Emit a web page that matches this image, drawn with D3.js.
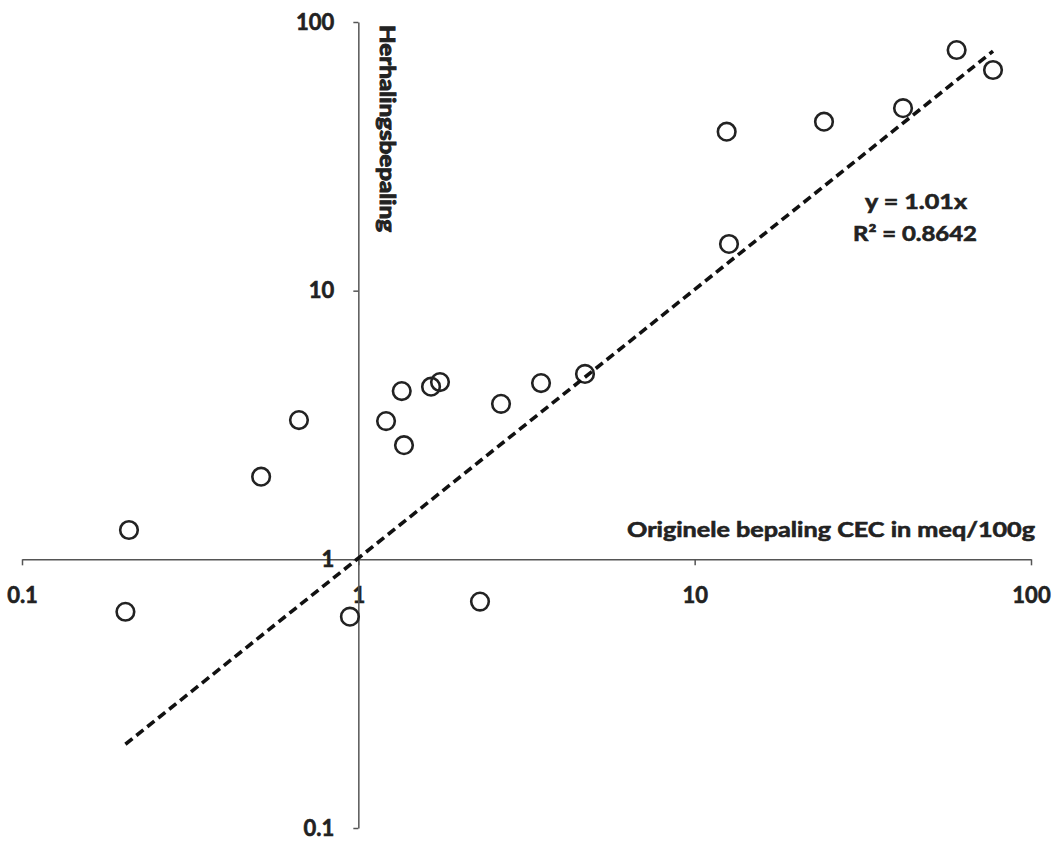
<!DOCTYPE html>
<html lang="nl">
<head>
    <meta charset="UTF-8">
    <title>CEC herhalingsbepaling</title>
    <script src="https://d3js.org/d3.v7.min.js"></script>
    <style>
        body { margin: 0; background-color: #fff; overflow: hidden; }
        text { font-family: Lato, "Open Sans", sans-serif; font-weight: 700; fill: #222; stroke: #222; stroke-width: 0.6px; }
        .axis path, .axis line { stroke: #555; stroke-width: 1.5px; }
        .axis text { font-size: 22px; }
        .dot { fill: none; stroke: #222; stroke-width: 2.6px; }
        .trend { fill: none; stroke: #111; stroke-width: 3.6px; stroke-dasharray: 9 5; }
    </style>
</head>
<body>
    <div id="chart"></div>
    <script>
        const width = 1062, height = 841;

        // Original CEC determination vs. repeat determination (meq/100g)
        const origineel = [0.208, 0.203, 0.514, 0.666, 0.944, 1.209, 1.346, 1.367, 1.645, 1.749,
                           2.30, 2.656, 3.493, 4.72, 12.45, 12.65, 24.24, 41.64, 60.1, 77.1];
        const herhaling = [1.286, 0.638, 2.03, 3.30, 0.612, 3.27, 4.23, 2.66, 4.39, 4.57,
                           0.696, 3.79, 4.53, 4.90, 39.05, 14.92, 42.55, 47.8, 78.65, 66.28];
        const xTicks = [0.1, 1, 10, 100];
        const yTicks = [0.1, 1, 10, 100];
        const slope = 1.01;
        const rSquared = 0.8642;

        const svg = d3.select("#chart").append("svg")
            .attr("width", width)
            .attr("height", height);

        const x = d3.scaleLog().domain([0.1, 100]).range([22, 1031]);
        const y = d3.scaleLog().domain([0.1, 100]).range([828, 22]);

        // Axes cross at (1, 1)
        svg.append("g")
            .attr("class", "axis")
            .attr("transform", `translate(0, ${y(1)})`)
            .call(d3.axisBottom(x).tickValues(xTicks).tickSize(6).tickSizeOuter(0)
                .tickPadding(22).tickFormat(d => d));

        svg.append("g")
            .attr("class", "axis")
            .attr("transform", `translate(${x(1)}, 0)`)
            .call(d3.axisLeft(y).tickValues(yTicks).tickSize(5).tickSizeOuter(0)
                .tickPadding(19).tickFormat(d => d));

        svg.selectAll(".axis .domain").attr("stroke", "#555");
        svg.selectAll(".axis text").attr("fill", "#222");

        // Points
        const points = origineel.map((v, i) => ({ x: v, y: herhaling[i] }));
        svg.selectAll(".dot")
            .data(points)
            .enter().append("circle")
            .attr("class", "dot")
            .attr("cx", d => x(d.x))
            .attr("cy", d => y(d.y))
            .attr("r", 8.8);

        // Trend line through origin, over the data range
        const [xMin, xMax] = d3.extent(origineel);
        const line = d3.line().x(d => x(d)).y(d => y(slope * d));
        svg.append("path")
            .attr("class", "trend")
            .attr("d", line([xMin, xMax]));

        // Axis titles
        svg.append("text")
            .attr("x", 627)
            .attr("y", 537)
            .attr("textLength", 408)
            .attr("lengthAdjust", "spacingAndGlyphs")
            .style("font-size", "21px")
            .text("Originele bepaling CEC in meq/100g");

        svg.append("text")
            .attr("transform", "translate(380, 25) rotate(90)")
            .attr("textLength", 207)
            .attr("lengthAdjust", "spacingAndGlyphs")
            .style("font-size", "21px")
            .style("stroke-width", "1px")
            .text("Herhalingsbepaling");

        // Equation
        svg.append("text")
            .attr("x", 865)
            .attr("y", 209)
            .attr("textLength", 102)
            .attr("lengthAdjust", "spacingAndGlyphs")
            .style("font-size", "20px")
            .text(`y = ${slope}x`);

        svg.append("text")
            .attr("x", 853)
            .attr("y", 241)
            .attr("textLength", 124)
            .attr("lengthAdjust", "spacingAndGlyphs")
            .style("font-size", "20px")
            .text(`R² = ${rSquared}`);
    </script>
</body>
</html>
